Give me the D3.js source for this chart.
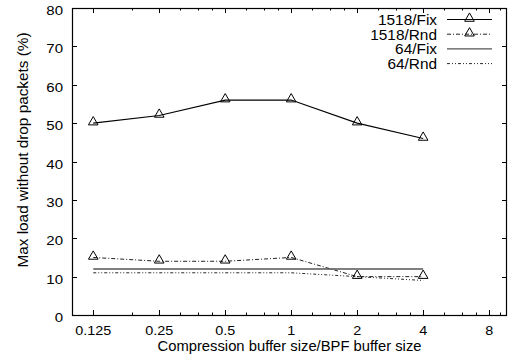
<!DOCTYPE html>
<html>
<head>
<meta charset="utf-8">
<script src="https://cdn.jsdelivr.net/npm/d3@7"></script>
<style>
  html, body { margin: 0; padding: 0; background: #fff; }
  svg { display: block; font-family: "Liberation Sans", Arial, sans-serif; }
</style>
</head>
<body>
<svg id="chart" width="512" height="362"></svg>
<script>
// Buffer size ratios (log2 x axis)
const ratios = [0.125, 0.25, 0.5, 1, 2, 4];
const xTickValues = [0.125, 0.25, 0.5, 1, 2, 4, 8];
const xTickLabels = ["0.125", "0.25", "0.5", "1", "2", "4", "8"];
const xMinorTicks = [0.1875, 0.3125, 0.375, 0.4375, 0.625, 0.75, 0.875,
                     1.25, 1.5, 1.75, 2.5, 3, 3.5, 5, 6, 7, 9];
const yTickValues = [0, 10, 20, 30, 40, 50, 60, 70, 80];

// Max load without drop (%) per series
const fix1518 = [50, 52, 56, 56, 50, 46];
const rnd1518 = [15, 14, 14, 15, 10, 10];
const fix64 = [12, 12, 12, 12, 12, 12];
const rnd64 = [11, 11, 11, 11, 10, 9];

const seriesNames = ["1518/Fix", "1518/Rnd", "64/Fix", "64/Rnd"];

const series = [
  { name: seriesNames[0], values: fix1518, color: "#000", dash: null, width: 1.1, marker: true },
  { name: seriesNames[1], values: rnd1518, color: "#222", dash: "4,2,1,2", width: 1, marker: true },
  { name: seriesNames[2], values: fix64, color: "#555", dash: null, width: 1.4, marker: false },
  { name: seriesNames[3], values: rnd64, color: "#111", dash: "3,2,1,2,1,2", width: 0.9, marker: false }
];

const margin = { left: 72, right: 5, top: 8, bottom: 47 };
const W = 512, H = 362;
const svg = d3.select("#chart");

const x = d3.scaleLog().base(2).domain([0.1, 9.65]).range([margin.left, W - margin.right]);
const y = d3.scaleLinear().domain([0, 80]).range([H - margin.bottom, margin.top]);

const x0 = x.range()[0], x1 = x.range()[1];
const y0 = y.range()[0], y1 = y.range()[1];

// Horizontally widened text label
function wideText(parent, tx, ty, str, size, sx, anchor) {
  parent.append("g")
    .attr("transform", `translate(${tx},${ty}) scale(${sx},1)`)
    .append("text")
    .attr("font-size", size)
    .attr("text-anchor", anchor)
    .attr("fill", "#000")
    .text(str);
}

// Major and minor ticks, mirrored on all sides
const g = svg.append("g").attr("stroke", "#000").attr("stroke-width", 1);
xTickValues.forEach(v => {
  const px = Math.round(x(v)) + 0.5;
  g.append("line").attr("x1", px).attr("x2", px).attr("y1", y0).attr("y2", y0 - 5);
  g.append("line").attr("x1", px).attr("x2", px).attr("y1", y1).attr("y2", y1 + 5);
});
xMinorTicks.forEach(v => {
  const px = Math.round(x(v)) + 0.5;
  g.append("line").attr("x1", px).attr("x2", px).attr("y1", y0).attr("y2", y0 - 2.5);
  g.append("line").attr("x1", px).attr("x2", px).attr("y1", y1).attr("y2", y1 + 2.5);
});
yTickValues.forEach(v => {
  const py = Math.round(y(v)) + 0.5;
  g.append("line").attr("x1", x0).attr("x2", x0 + 5).attr("y1", py).attr("y2", py);
  g.append("line").attr("x1", x1).attr("x2", x1 - 5).attr("y1", py).attr("y2", py);
});

// Frame
svg.append("rect")
  .attr("x", x0 + 0.5).attr("y", y1 + 0.5)
  .attr("width", x1 - x0 - 1).attr("height", y0 - y1)
  .attr("fill", "none").attr("stroke", "#000").attr("stroke-width", 1.2);

// Tick labels
const labels = svg.append("g");
xTickValues.forEach((v, i) => {
  wideText(labels, x(v), y0 + 20, xTickLabels[i], 12, 1.2, "middle");
});
yTickValues.forEach(v => {
  wideText(labels, x0 - 9, y(v) + 7, String(v), 12, 1.25, "end");
});

// Axis titles
svg.append("text").attr("x", (x0 + x1) / 2).attr("y", 351)
  .attr("text-anchor", "middle").attr("font-size", 14)
  .attr("textLength", 264).attr("lengthAdjust", "spacingAndGlyphs")
  .text("Compression buffer size/BPF buffer size");
svg.append("text")
  .attr("transform", "translate(28,150) rotate(-90)")
  .attr("text-anchor", "middle").attr("font-size", 14)
  .attr("textLength", 235).attr("lengthAdjust", "spacingAndGlyphs")
  .text("Max load without drop packets (%)");

// Series lines and markers
const line = d3.line().x((d, i) => x(ratios[i])).y(d => y(d));
const tri = d3.symbol().type(d3.symbolTriangle).size(40);

series.forEach(s => {
  svg.append("path")
    .datum(s.values)
    .attr("d", line)
    .attr("fill", "none")
    .attr("stroke", s.color)
    .attr("stroke-width", s.width)
    .attr("stroke-dasharray", s.dash);
  if (s.marker) {
    svg.append("g").selectAll("path")
      .data(s.values)
      .join("path")
      .attr("d", tri)
      .attr("transform", (d, i) => `translate(${x(ratios[i])},${y(d) - 1})`)
      .attr("fill", "none").attr("stroke", "#000").attr("stroke-width", 1);
  }
});

// Legend
const legend = svg.append("g");
series.forEach((s, i) => {
  const ly = 19.5 + i * 14.7;
  wideText(legend, 437, ly + 5.5, s.name, 14, 1.1, "end");
  legend.append("line")
    .attr("x1", 447).attr("x2", 492).attr("y1", ly).attr("y2", ly)
    .attr("stroke", s.color).attr("stroke-width", s.width)
    .attr("stroke-dasharray", s.dash);
  if (s.marker) {
    legend.append("path").attr("d", tri)
      .attr("transform", `translate(469.5,${ly - 1})`)
      .attr("fill", "none").attr("stroke", "#000").attr("stroke-width", 1);
  }
});
</script>
</body>
</html>
